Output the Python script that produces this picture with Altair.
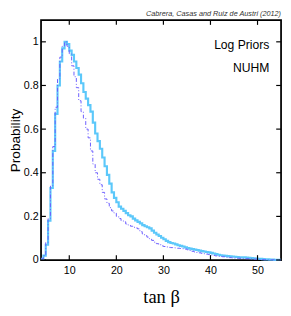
import altair as alt
import pandas as pd

# bin starts (tan beta), bin width 0.5
bin_start = [4.0 + 0.5 * i for i in range(102)]

solid = [0.005, 0.02, 0.07, 0.18, 0.33, 0.50, 0.67, 0.80, 0.91, 0.97,
         1.00, 0.99, 0.96, 0.94, 0.91, 0.88, 0.85, 0.81, 0.77, 0.74,
         0.71, 0.68, 0.63, 0.58, 0.545, 0.51, 0.47, 0.43, 0.39, 0.35,
         0.31, 0.285, 0.265, 0.245, 0.235, 0.225, 0.215, 0.205, 0.20, 0.19,
         0.182, 0.175, 0.168, 0.16, 0.155, 0.15, 0.145, 0.135, 0.125, 0.117,
         0.11, 0.102, 0.095, 0.088, 0.082, 0.078, 0.076, 0.072, 0.068, 0.065,
         0.062, 0.058, 0.055, 0.052, 0.05, 0.048, 0.046, 0.043, 0.041, 0.039,
         0.037, 0.035, 0.033, 0.03, 0.027, 0.024, 0.022, 0.02, 0.019, 0.018,
         0.017, 0.016, 0.015, 0.014, 0.013, 0.012, 0.012, 0.011, 0.01, 0.009,
         0.008, 0.007, 0.006, 0.005, 0.004, 0.003, 0.003, 0.002, 0.002, 0.001,
         0.001, 0.001]

dashed = [0.005, 0.02, 0.08, 0.19, 0.34, 0.52, 0.70, 0.83, 0.93, 0.98,
          1.00, 0.98, 0.945, 0.89, 0.84, 0.79, 0.73, 0.68, 0.65, 0.60,
          0.56, 0.50, 0.44, 0.40, 0.37, 0.345, 0.31, 0.28, 0.26, 0.24,
          0.225, 0.215, 0.20, 0.19, 0.18, 0.175, 0.165, 0.16, 0.155, 0.15,
          0.147, 0.143, 0.13, 0.12, 0.112, 0.105, 0.098, 0.09, 0.082, 0.075,
          0.07, 0.065, 0.062, 0.06, 0.058, 0.057, 0.056, 0.055, 0.054, 0.053,
          0.052, 0.05, 0.047, 0.044, 0.04, 0.037, 0.035, 0.033, 0.031, 0.029,
          0.027, 0.025, 0.023, 0.021, 0.019, 0.017, 0.016, 0.015, 0.014, 0.012,
          0.011, 0.01, 0.009, 0.008, 0.008, 0.007, 0.007, 0.006, 0.006, 0.005,
          0.004, 0.004, 0.003, 0.003, 0.002, 0.002, 0.001, 0.001, 0.001, 0.001,
          0.0, 0.0]

x_ticks = [10, 20, 30, 40, 50]
y_ticks = [0, 0.2, 0.4, 0.6, 0.8, 1.0]

W, H = 247, 247
X_DOMAIN = [4, 55]
Y_DOMAIN = [0, 1.1]

xs = bin_start + [55.0]
df_s = pd.DataFrame({"t": xs, "p": solid + [solid[-1]]})
df_d = pd.DataFrame({"t": xs, "p": dashed + [dashed[-1]]})

xscale = alt.Scale(domain=X_DOMAIN, nice=False, zero=False)
yscale = alt.Scale(domain=Y_DOMAIN, nice=False)

xaxis = alt.Axis(values=x_ticks, ticks=False, domain=False, grid=False,
                 labelFontSize=11, labelPadding=5, labelFont="Liberation Sans",
                 labelColor="black", title="tan β", titleFont="Liberation Serif",
                 titleFontSize=19, titleFontWeight="normal", titlePadding=13,
                 titleColor="black")
yaxis = alt.Axis(values=y_ticks, ticks=False, domain=False, grid=False,
                 format="~g", labelFontSize=11, labelPadding=3,
                 labelFont="Liberation Sans", labelColor="black",
                 title="Probability", titleFont="Liberation Sans",
                 titleFontSize=14, titleFontWeight="normal", titlePadding=1,
                 titleColor="black")

solid_line = alt.Chart(df_s).mark_line(
    interpolate="step-after", color="#5cc8fa", strokeWidth=2.2
).encode(x=alt.X("t:Q", scale=xscale, axis=xaxis),
         y=alt.Y("p:Q", scale=yscale, axis=yaxis))

dash_line = alt.Chart(df_d).mark_line(
    interpolate="step-after", color="#6a5cff", strokeWidth=1.0,
    strokeDash=[4, 2, 1, 2]
).encode(x=alt.X("t:Q", scale=xscale), y=alt.Y("p:Q", scale=yscale))

xt = pd.DataFrame({"t": x_ticks})
yt = pd.DataFrame({"p": y_ticks})

bottom_ticks = alt.Chart(xt).mark_rule(color="black", strokeWidth=1.2).encode(
    x=alt.X("t:Q", scale=xscale), y=alt.value(H), y2=alt.value(H - 5))
top_ticks = alt.Chart(xt).mark_rule(color="black", strokeWidth=1.2).encode(
    x=alt.X("t:Q", scale=xscale), y=alt.value(0), y2=alt.value(5))
left_ticks = alt.Chart(yt).mark_rule(color="black", strokeWidth=1.2).encode(
    y=alt.Y("p:Q", scale=yscale), x=alt.value(0), x2=alt.value(5))
right_ticks = alt.Chart(yt).mark_rule(color="black", strokeWidth=1.2).encode(
    y=alt.Y("p:Q", scale=yscale), x=alt.value(W), x2=alt.value(W - 5))

label1 = alt.Chart(pd.DataFrame({"txt": ["Log Priors"]})).mark_text(
    align="right", baseline="alphabetic", fontSize=12.5,
    font="Liberation Sans", color="black"
).encode(text="txt:N", x=alt.value(235), y=alt.value(30))
label2 = alt.Chart(pd.DataFrame({"txt": ["NUHM"]})).mark_text(
    align="right", baseline="alphabetic", fontSize=12.5,
    font="Liberation Sans", color="black"
).encode(text="txt:N", x=alt.value(235), y=alt.value(54))

credit = pd.DataFrame({"txt": ["Cabrera, Casas and Ruiz de Austri (2012)"]})
credit_text = alt.Chart(credit).mark_text(
    align="right", baseline="bottom", fontSize=7.5, fontStyle="italic",
    font="Liberation Sans", color="#333333"
).encode(text="txt:N", x=alt.value(W), y=alt.value(-2))

chart = alt.layer(
    solid_line, dash_line, bottom_ticks, top_ticks, left_ticks, right_ticks,
    label1, label2, credit_text
).properties(
    width=W, height=H,
    background="white",
    autosize=alt.AutoSizeParams(type="none"),
    padding={"left": 34, "top": 8, "right": 2, "bottom": 45},
).configure_view(stroke="black", strokeWidth=1.8)

chart.save("out.html", embed_options={"renderer": "svg", "actions": False})
